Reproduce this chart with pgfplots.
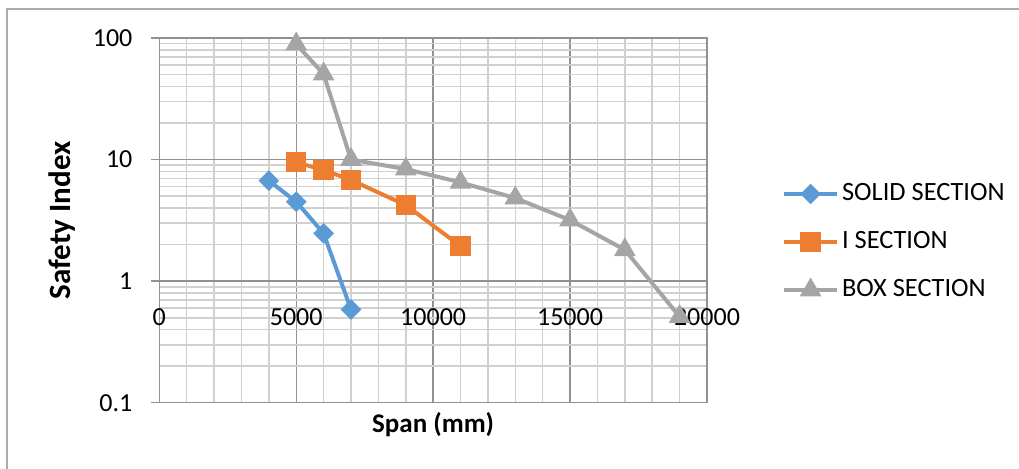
\documentclass[border=0pt]{standalone}
\usepackage{pgfplots}
\pgfplotsset{compat=1.18}
\usepackage{fontspec}
\setmainfont{Carlito}
\definecolor{cblue}{RGB}{91,155,213}
\definecolor{corange}{RGB}{237,125,49}
\definecolor{cgray}{RGB}{165,165,165}
\definecolor{majgrid}{RGB}{145,145,145}
\definecolor{mingrid}{RGB}{208,208,208}
\definecolor{framec}{RGB}{170,170,170}
\begin{document}
\begin{tikzpicture}
\fontsize{13}{15.6}\selectfont
\path[use as bounding box] (-79.65pt,-32.65pt) rectangle (429.85pt,201.35pt);
\begin{axis}[
  at={(0pt,0pt)}, anchor=south west,
  scale only axis, width=273.85pt, height=182.35pt,
  xmin=0, xmax=20000, ymin=0.1, ymax=100, ymode=log,
  clip=false,
  scaled x ticks=false,
  font=\fontsize{13}{15.6}\selectfont,
  /pgf/number format/assume math mode=true,
  xtick={0,5000,10000,15000,20000},
  xticklabels={0,5000,10000,15000,20000},
  minor xtick={1000,2000,3000,4000,6000,7000,8000,9000,11000,12000,13000,14000,16000,17000,18000,19000},
  ytick={0.1,1,10,100},
  yticklabels={0.1,1,10,100},
  minor ytick={0.2,0.3,0.4,0.5,0.6,0.7,0.8,0.9,2,3,4,5,6,7,8,9,20,30,40,50,60,70,80,90},
  grid=both,
  major grid style={draw=majgrid, line width=0.7pt},
  minor grid style={draw=mingrid, line width=0.8pt},
  axis line style={draw=majgrid, line width=0.7pt},
  tick align=outside,
  xtick style={/pgfplots/major tick length=0pt, /pgfplots/minor tick length=0pt},
  ytick style={draw=majgrid, line width=0.7pt, /pgfplots/major tick length=4pt, /pgfplots/minor tick length=0pt},
  xtick pos=bottom, ytick pos=left,
  xticklabel style={anchor=center, yshift=47pt},
  yticklabel style={anchor=east, inner sep=0pt, xshift=-9pt},
  xlabel={\fontsize{13.5}{16}\selectfont\bfseries Span (mm)},
  ylabel={\fontsize{15.5}{18}\selectfont\bfseries Safety Index},
  xlabel style={at={(axis description cs:0.5,-0.0611)}, anchor=center},
  ylabel style={at={(axis description cs:-0.1777,0.5)}, anchor=center},
  legend style={at={(axis description cs:1.1364,0.4405)}, anchor=west, draw=none, fill=none,
    inner sep=0pt, row sep=10.5pt, nodes={inner sep=1.5pt, anchor=west},
    font=\fontsize{13.2}{15.6}\selectfont},
  legend cell align=left,
  legend image code/.code={\draw[mark repeat=2,mark phase=2,#1] plot coordinates {(0pt,0pt) (13.25pt,0pt) (26.5pt,0pt)};},
]
\addplot[color=cblue, line width=2pt, mark=square*, mark size=2.65pt, mark options={rotate=45, solid}] coordinates {
(4000,6.7) (5000,4.5) (6000,2.47) (7000,0.585)};
\addlegendentry{SOLID SECTION}
\addplot[color=corange, line width=2pt, mark=square*, mark size=4.1pt, mark options={solid}] coordinates {
(5000,9.5) (6000,8.2) (7000,6.8) (9000,4.22) (11000,1.94)};
\addlegendentry{I SECTION}
\addplot[color=cgray, line width=2pt, mark=triangle*, mark size=4.3pt, mark options={solid}] coordinates {
(5000,89) (6000,50.5) (7000,10) (9000,8.35) (11000,6.5) (13000,4.82) (15000,3.18) (17000,1.81) (19000,0.51)};
\addlegendentry{BOX SECTION}
\end{axis}
\draw[framec, line width=0.8pt] (-76.15pt,-40pt) -- (-76.15pt,196.85pt) -- (440pt,196.85pt);
\end{tikzpicture}
\end{document}
